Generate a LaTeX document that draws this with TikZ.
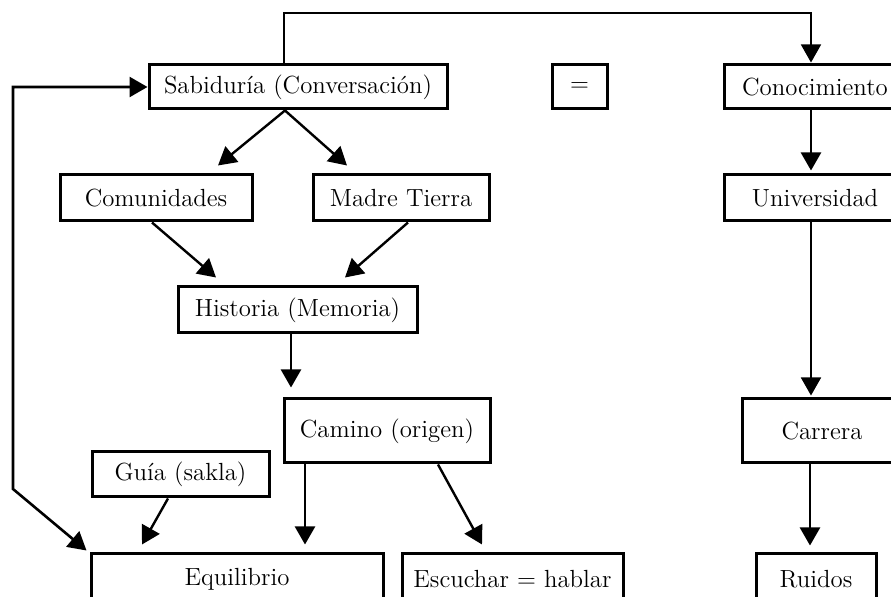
\documentclass[tikz,border=0pt]{standalone}
\usetikzlibrary{arrows.meta,calc}
\begin{document}
\begin{tikzpicture}[x=0.5pt,y=-0.5pt,
  box/.style={draw,line width=1.5pt,inner sep=0pt,font=\fontsize{12.4}{14}\selectfont},
  arr/.style={line width=1.2pt,-{Triangle[width=10pt,length=9pt]}},
  arrboth/.style={line width=1.3pt,{Triangle[width=10pt,length=9pt]}-{Triangle[width=10pt,length=9pt]}},
  thin/.style={line width=0.8pt,-{Triangle[width=10pt,length=9pt]}},
]
\useasboundingbox (0,0) rectangle (891,597);
\clip (0,0) rectangle (891,597);
% nodes
\node[box,minimum width=149pt,minimum height=22pt] (sab) at (298,87) {Sabiduría (Conversación)};
\node[box,minimum width=27.5pt,minimum height=22pt] (eq) at (579.5,87) {=};
\node[box,minimum width=91pt,minimum height=22pt] (con) at (815,87) {Conocimiento};
\node[box,minimum width=96pt,minimum height=23pt] (com) at (156,198) {Comunidades};
\node[box,minimum width=88pt,minimum height=23pt] (mad) at (401,198) {Madre Tierra};
\node[box,minimum width=91pt,minimum height=23pt] (uni) at (815,198) {Universidad};
\node[box,minimum width=119.5pt,minimum height=23pt] (his) at (297.5,310) {Historia (Memoria)};
\node[box,minimum width=103pt,minimum height=32pt] (cam) at (387,431) {Camino (origen)};
\node[box,minimum width=80pt,minimum height=32pt] (car) at (822,431) {Carrera};
\node[box,minimum width=88.5pt,minimum height=22.5pt] (gui) at (180.5,474.5) {Guía (sakla)};
\node[box,minimum width=146pt,minimum height=25pt] (equ) at (237,579) {Equilibrio};
\node[box,minimum width=110.5pt,minimum height=25pt] (esc) at (512.5,579) {Escuchar = hablar};
\node[box,minimum width=60pt,minimum height=25pt] (rui) at (816,579) {Ruidos};
% connectors
\coordinate (top) at (550,13);
\draw[thin] ($(sab.north)+(-14,0)$) |- (top) -| ($(con.north)+(-4,-1)$);
\coordinate (lb) at (13,489);
\draw[arrboth] (sab.west) -- (sab.west -| lb) -- (lb) -- ($(equ.north west)+(-3,-2)$);
\draw[arr] ($(sab.south)+(-13,0)$) -- ($(com.north)+(62,-8)$);
\draw[arr] ($(sab.south)+(-13,0)$) -- ($(mad.north)+(-54,-8)$);
\draw[arr] ($(com.south)+(-4,0)$) -- ($(his.north)+(-81.5,-8)$);
\draw[arr] ($(mad.south)+(7,0)$) -- ($(his.north)+(47.5,-8)$);
\draw[arr] ($(his.south)+(-6.5,0)$) -- ($(cam.north)+(-96,-10)$);
\draw[arr] ($(con.south)+(-4,0)$) -- ($(uni.north)+(-4,-3)$);
\draw[arr,line width=0.9pt] ($(uni.south)+(-4,0)$) -- ($(car.north)+(-11,-2)$);
\draw[arr] ($(car.south)+(-12,0)$) -- ($(rui.north)+(-6,-7)$);
\draw[arr] ($(cam.south)+(-82,0)$) -- ($(equ.north)+(68,-8)$);
\draw[arr] ($(cam.south)+(51,0)$) -- ($(esc.north)+(-30.5,-8)$);
\draw[arr] ($(gui.south)+(-12.5,0)$) -- ($(equ.north)+(-95,-8)$);
\end{tikzpicture}
\end{document}
